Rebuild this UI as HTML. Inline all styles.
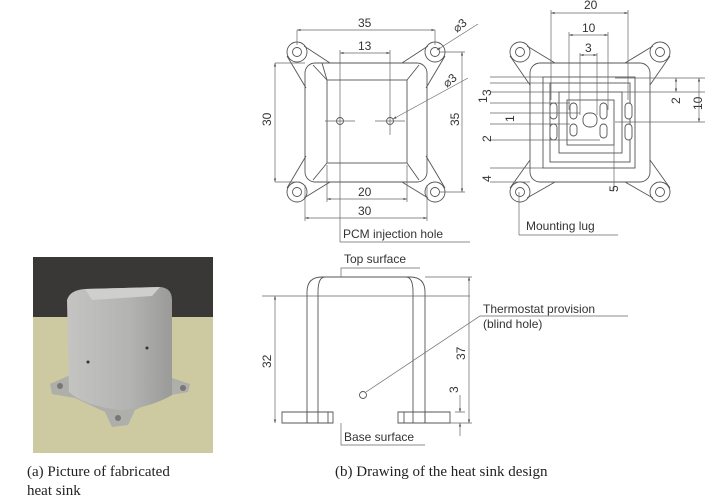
<!DOCTYPE html>
<html><head><meta charset="utf-8"><style>
html,body{margin:0;padding:0;background:#fff;}
svg{display:block;}
.l{stroke:#555;stroke-width:0.9;fill:none;}
.d{stroke:#666;stroke-width:0.7;fill:none;}
.t{font-family:"Liberation Sans",sans-serif;font-size:12px;fill:#333;}
.c{font-family:"Liberation Serif",serif;font-size:15px;fill:#222;}
</style></head><body>
<svg width="712" height="504" viewBox="0 0 712 504">
<defs>
<linearGradient id="cube" x1="0" x2="1"><stop offset="0" stop-color="#c4c4c2"/><stop offset="0.6" stop-color="#b3b3b1"/><stop offset="1" stop-color="#9a9a98"/></linearGradient>
<marker id="a" viewBox="0 0 6 6" refX="6" refY="3" markerWidth="5" markerHeight="5" orient="auto-start-reverse"><path d="M0,1 L6,3 L0,5z" fill="#555"/></marker>
</defs>
<!-- photo -->
<rect x="33" y="257" width="180" height="196" fill="#cdc9a0"/>
<rect x="33" y="257" width="180" height="60" fill="#3a3836"/>
<path d="M50,384 L68,376 L172,378 L190,384 L188,392 L165,396 L135,410 L128,425 L112,427 L105,412 L75,398 L52,394z" fill="#aeaeaa"/>
<circle cx="60" cy="386" r="3" fill="#777"/><circle cx="183" cy="388" r="3" fill="#777"/><circle cx="118" cy="418" r="3" fill="#777"/>
<path d="M67,300 Q70,290 85,289 L160,287 Q172,288 172,300 L172,395 Q150,408 120,410 Q85,406 69,392z" fill="url(#cube)"/>
<path d="M85,289 L160,287 L152,296 L92,300z" fill="#cfcfcd"/>
<circle cx="147" cy="348" r="1.5" fill="#333"/><circle cx="88" cy="362" r="1.5" fill="#333"/>
<!-- top view left -->
<g>
<circle class="l" cx="297" cy="52" r="10"/><circle class="l" cx="297" cy="52" r="4.5"/>
<circle class="l" cx="435" cy="52" r="10"/><circle class="l" cx="435" cy="52" r="4.5"/>
<circle class="l" cx="297" cy="192" r="10"/><circle class="l" cx="297" cy="192" r="4.5"/>
<circle class="l" cx="435" cy="192" r="10"/><circle class="l" cx="435" cy="192" r="4.5"/>
<path class="l" d="M287,56 L306,88 M304,46 L330,63 M445,56 L426,88 M428,46 L402,63 M287,188 L306,156 M304,198 L330,182 M445,188 L426,156 M428,198 L402,182"/>
<rect class="l" x="305" y="63" width="122" height="119" rx="10"/>
<rect class="l" x="327" y="80" width="80" height="83"/>
<path class="l" d="M313,65 L327,80 L322,63 M419,65 L407,80 M313,180 L327,163 M419,180 L407,163"/>
<circle class="l" cx="340" cy="121" r="3.5"/><circle class="l" cx="390" cy="121" r="3.5"/>
<path class="d" d="M325,121 H355 M375,121 H405 M390,50 V135"/>
<path class="d" d="M297,30 V45 M435,30 V45 M340,50 V242 M275,63 H305 M275,182 H300 M440,52 H465 M440,192 H465 M327,165 V202 M407,165 V202 M305,185 V221 M427,185 V221"/>
<line class="d" x1="297" y1="30" x2="435" y2="30" marker-start="url(#a)" marker-end="url(#a)"/>
<line class="d" x1="340" y1="53" x2="390" y2="53" marker-start="url(#a)" marker-end="url(#a)"/>
<line class="d" x1="275" y1="63" x2="275" y2="182" marker-start="url(#a)" marker-end="url(#a)"/>
<line class="d" x1="462" y1="52" x2="462" y2="192" marker-start="url(#a)" marker-end="url(#a)"/>
<line class="d" x1="327" y1="199" x2="407" y2="199" marker-start="url(#a)" marker-end="url(#a)"/>
<line class="d" x1="305" y1="218" x2="427" y2="218" marker-start="url(#a)" marker-end="url(#a)"/>
<line class="d" x1="478" y1="24" x2="437" y2="50" marker-end="url(#a)"/>
<line class="d" x1="468" y1="78" x2="393" y2="119" marker-end="url(#a)"/>
<text class="t" x="358" y="27">35</text><text class="t" x="358" y="50">13</text>
<text class="t" x="358" y="196">20</text><text class="t" x="358" y="215">30</text>
<text class="t" transform="translate(271,126) rotate(-90)">30</text>
<text class="t" transform="translate(459,126) rotate(-90)">35</text>
<text class="t" transform="translate(457,33) rotate(-40)">⌀3</text>
<text class="t" transform="translate(447,88) rotate(-40)">⌀3</text>
<path class="d" d="M340,242 H470"/>
<text class="t" x="343" y="238">PCM injection hole</text>
</g>
<!-- top view right -->
<g>
<circle class="l" cx="520" cy="52" r="10"/><circle class="l" cx="520" cy="52" r="4.5"/>
<circle class="l" cx="660" cy="52" r="10"/><circle class="l" cx="660" cy="52" r="4.5"/>
<circle class="l" cx="520" cy="192" r="10"/><circle class="l" cx="520" cy="192" r="4.5"/>
<circle class="l" cx="660" cy="192" r="10"/><circle class="l" cx="660" cy="192" r="4.5"/>
<path class="l" d="M510,56 L530,85 M527,46 L555,63 M670,56 L650,85 M653,46 L625,63 M510,188 L530,160 M527,198 L555,182 M670,188 L650,160 M653,198 L625,182"/>
<rect class="l" x="530" y="63" width="120" height="119" rx="10"/>
<rect class="l" x="543" y="77" width="92" height="91"/>
<rect class="l" x="550" y="83" width="80" height="79"/>
<rect class="l" x="559" y="92" width="63" height="61"/>
<rect class="l" x="567" y="100" width="47" height="45"/>
<g fill="#fff" stroke="#555" stroke-width="0.9">
<rect x="550" y="103" width="7" height="16" rx="3.5"/><rect x="570" y="103" width="7" height="16" rx="3.5"/>
<rect x="600" y="103" width="7" height="16" rx="3.5"/><rect x="625" y="103" width="7" height="16" rx="3.5"/>
<rect x="550" y="124" width="7" height="16" rx="3.5"/><rect x="570" y="124" width="7" height="12" rx="3.5"/>
<rect x="600" y="124" width="7" height="14" rx="3.5"/><rect x="625" y="124" width="7" height="16" rx="3.5"/>
<rect x="583" y="113" width="14" height="14" rx="6"/>
</g>
<path class="d" d="M551,10 V100 M628,10 V100 M569,32 V110 M608,32 V110 M580,53 V115 M597,53 V115 M490,77 H545 M490,83 H550 M490,92 H559 M490,103 H570 M490,113 H580 M490,124 H570 M490,140 H600 M490,168 H545 M490,182 H530 M614,122 V190 M615,78 H705 M615,92 H705 M615,122 H705"/>
<line class="d" x1="551" y1="13" x2="628" y2="13" marker-start="url(#a)" marker-end="url(#a)"/>
<line class="d" x1="569" y1="35" x2="608" y2="35" marker-start="url(#a)" marker-end="url(#a)"/>
<line class="d" x1="580" y1="55" x2="597" y2="55" marker-start="url(#a)" marker-end="url(#a)"/>
<text class="t" x="584" y="9">20</text><text class="t" x="582" y="32">10</text><text class="t" x="585" y="52">3</text>
<text class="t" transform="translate(487,103) rotate(-90)">1</text>
<text class="t" transform="translate(491,96) rotate(-90)" font-size="11">3</text>
<text class="t" transform="translate(514,122) rotate(-90)">1</text>
<text class="t" transform="translate(491,142) rotate(-90)">2</text>
<text class="t" transform="translate(491,182) rotate(-90)">4</text>
<text class="t" transform="translate(680,104) rotate(-90)">2</text>
<text class="t" transform="translate(702,110) rotate(-90)">10</text>
<text class="t" transform="translate(618,192) rotate(-90)">5</text>
<line class="d" x1="676" y1="78" x2="676" y2="92" marker-start="url(#a)" marker-end="url(#a)"/>
<line class="d" x1="699" y1="78" x2="699" y2="122" marker-start="url(#a)" marker-end="url(#a)"/>
<line class="d" x1="519" y1="192" x2="519" y2="235"/>
<path class="d" d="M519,235 H618"/>
<text class="t" x="526" y="230">Mounting lug</text>
</g>
<!-- side view -->
<g>
<path class="l" d="M307,423 V292 Q307,277 322,277 H410 Q425,277 425,292 V423"/>
<path class="l" d="M318,412 V292 Q318,277 325,277 M413,412 V292 Q413,277 406,277"/>
<path class="l" d="M282,412 H333 V423 H282z M307,412 V423 M318,412 V423 M328,412 V423 M398,412 H450 V423 H398z M404,412 V423 M413,412 V423 M425,412 V423"/>
<path class="d" d="M262,296 H470 M425,277 H472 M450,423 H472 M455,412 H465"/>
<line class="d" x1="275" y1="296" x2="275" y2="423" marker-start="url(#a)" marker-end="url(#a)"/>
<line class="d" x1="469" y1="277" x2="469" y2="423" marker-start="url(#a)" marker-end="url(#a)"/>
<line class="d" x1="460" y1="395" x2="460" y2="412" marker-end="url(#a)"/>
<line class="d" x1="460" y1="436" x2="460" y2="423" marker-end="url(#a)"/>
<text class="t" transform="translate(271,368) rotate(-90)">32</text>
<text class="t" transform="translate(465,360) rotate(-90)">37</text>
<text class="t" transform="translate(458,393) rotate(-90)">3</text>
<circle class="l" cx="363" cy="395" r="3.5"/>
<path class="d" d="M366,392 L480,316 H628"/>
<text class="t" x="483" y="313">Thermostat provision</text>
<text class="t" x="483" y="328">(blind hole)</text>
<path class="d" d="M341,277 V268 H420"/>
<text class="t" x="344" y="263">Top surface</text>
<path class="d" d="M341,423 V445 H425"/>
<text class="t" x="344" y="441">Base surface</text>
</g>
<text class="c" x="27" y="476">(a) Picture of fabricated</text>
<text class="c" x="27" y="495">heat sink</text>
<text class="c" x="335" y="476">(b) Drawing of the heat sink design</text>
</svg>
</body></html>
